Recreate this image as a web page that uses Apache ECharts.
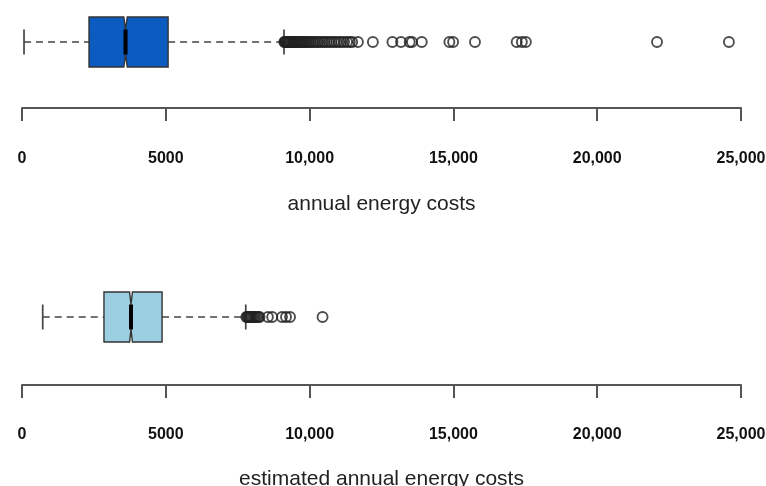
<!DOCTYPE html>
<html>
<head>
<meta charset="utf-8">
<script src="https://cdn.jsdelivr.net/npm/echarts@6/dist/echarts.min.js"></script>
<style>html,body{margin:0;padding:0;background:#fff;}#c{width:766px;height:486px;}</style>
</head>
<body>
<div id="c"></div>
<script>
// ---- data ----
const axisNames = ['annual energy costs', 'estimated annual energy costs'];
const tickLabels = ['0', '5000', '10,000', '15,000', '20,000', '25,000'];
// [min whisker, Q1, median, Q3, max whisker, notch half-width]
const boxTop = [70, 2330, 3600, 5080, 9110, 60];
const boxBottom = [720, 2850, 3790, 4870, 7780, 50];
const outliersTop = [9120, 9140, 9160, 9180, 9200, 9230, 9260, 9290, 9320, 9350, 9380, 9410, 9440, 9470, 9500,
  9540, 9580, 9620, 9660, 9700, 9740, 9780, 9830, 9880, 9930, 9980, 10040, 10100, 10160, 10230, 10300, 10370,
  10450, 10520, 10600, 10680, 10760, 10850, 10930, 11020, 11100, 11200, 11300, 11400, 11480,
  11680, 12200, 12880, 13180, 13480, 13560, 13900, 14860, 14990, 15750, 17200, 17380, 17520, 22080, 24580];
const outliersBottom = [7800, 7830, 7860, 7890, 7920, 7960, 8000, 8040, 8080, 8120, 8170, 8220, 8260,
  8550, 8700, 9040, 9180, 9320, 10450];

const chart = echarts.init(document.getElementById('c'), null, {renderer: 'canvas'});

function renderBox(params, api) {
  const min = api.value(0), q1 = api.value(1), med = api.value(2), q3 = api.value(3), max = api.value(4), nh = api.value(5);
  const px = v => api.coord([v, 0])[0];
  const y = api.coord([0, 0])[1];
  const H = 25, indent = 12.5, cap = 12.5;
  const color = api.visual('color');
  const wStyle = {stroke: '#444', lineWidth: 1.7, lineDash: [7, 5]};
  const cStyle = {stroke: '#444', lineWidth: 1.7};
  return {
    type: 'group',
    children: [
      {type: 'line', shape: {x1: px(min), y1: y, x2: px(q1), y2: y}, style: wStyle},
      {type: 'line', shape: {x1: px(q3), y1: y, x2: px(max), y2: y}, style: wStyle},
      {type: 'line', shape: {x1: px(min), y1: y - cap, x2: px(min), y2: y + cap}, style: cStyle},
      {type: 'line', shape: {x1: px(max), y1: y - cap, x2: px(max), y2: y + cap}, style: cStyle},
      {type: 'polygon', shape: {points: [
        [px(q1), y - H], [px(med - nh), y - H], [px(med), y - H + indent], [px(med + nh), y - H], [px(q3), y - H],
        [px(q3), y + H], [px(med + nh), y + H], [px(med), y + H - indent], [px(med - nh), y + H], [px(q1), y + H]
      ]}, style: {fill: color, stroke: '#333', lineWidth: 1.4}},
      {type: 'line', shape: {x1: px(med), y1: y - H + indent, x2: px(med), y2: y + H - indent}, style: {stroke: '#000', lineWidth: 4}}
    ]
  };
}

function makeX(idx, offset, margin, gap) {
  return {
    gridIndex: idx, type: 'value', min: 0, max: 25000, interval: 5000, position: 'bottom', offset: offset,
    splitLine: {show: false},
    axisLine: {show: true, onZero: false, lineStyle: {color: '#555', width: 2}},
    axisTick: {show: true, length: 13, lineStyle: {color: '#555', width: 2}},
    axisLabel: {margin: margin, color: '#111', fontFamily: 'Liberation Sans', fontWeight: 'bold', fontSize: 16,
      formatter: v => tickLabels[Math.round(v / 5000)]},
    name: axisNames[idx], nameLocation: 'middle', nameGap: gap,
    nameTextStyle: {color: '#222', fontFamily: 'Liberation Sans', fontSize: 21}
  };
}

chart.setOption({
  animation: false,
  grid: [
    {left: 22, right: 25, top: 0, height: 84, outerBoundsMode: 'none'},
    {left: 22, right: 25, top: 275, height: 84, outerBoundsMode: 'none'}
  ],
  xAxis: [makeX(0, 24, 43, 86), makeX(1, 26, 42, 84)],
  yAxis: [
    {gridIndex: 0, type: 'value', min: -1, max: 1, show: false},
    {gridIndex: 1, type: 'value', min: -1, max: 1, show: false}
  ],
  series: [
    {type: 'custom', xAxisIndex: 0, yAxisIndex: 0, itemStyle: {color: '#0c5bc0'}, renderItem: renderBox, data: [boxTop]},
    {type: 'custom', xAxisIndex: 1, yAxisIndex: 1, itemStyle: {color: '#9dcfe3'}, renderItem: renderBox, data: [boxBottom]},
    {type: 'scatter', xAxisIndex: 0, yAxisIndex: 0, symbol: 'circle', symbolSize: 10, z: 5,
      itemStyle: {color: 'rgba(0,0,0,0)', borderColor: '#222', borderWidth: 1.9},
      data: outliersTop.map(v => [v, 0])},
    {type: 'scatter', xAxisIndex: 1, yAxisIndex: 1, symbol: 'circle', symbolSize: 10, z: 5,
      itemStyle: {color: 'rgba(0,0,0,0)', borderColor: '#222', borderWidth: 1.9},
      data: outliersBottom.map(v => [v, 0])}
  ]
});
</script>
</body>
</html>
